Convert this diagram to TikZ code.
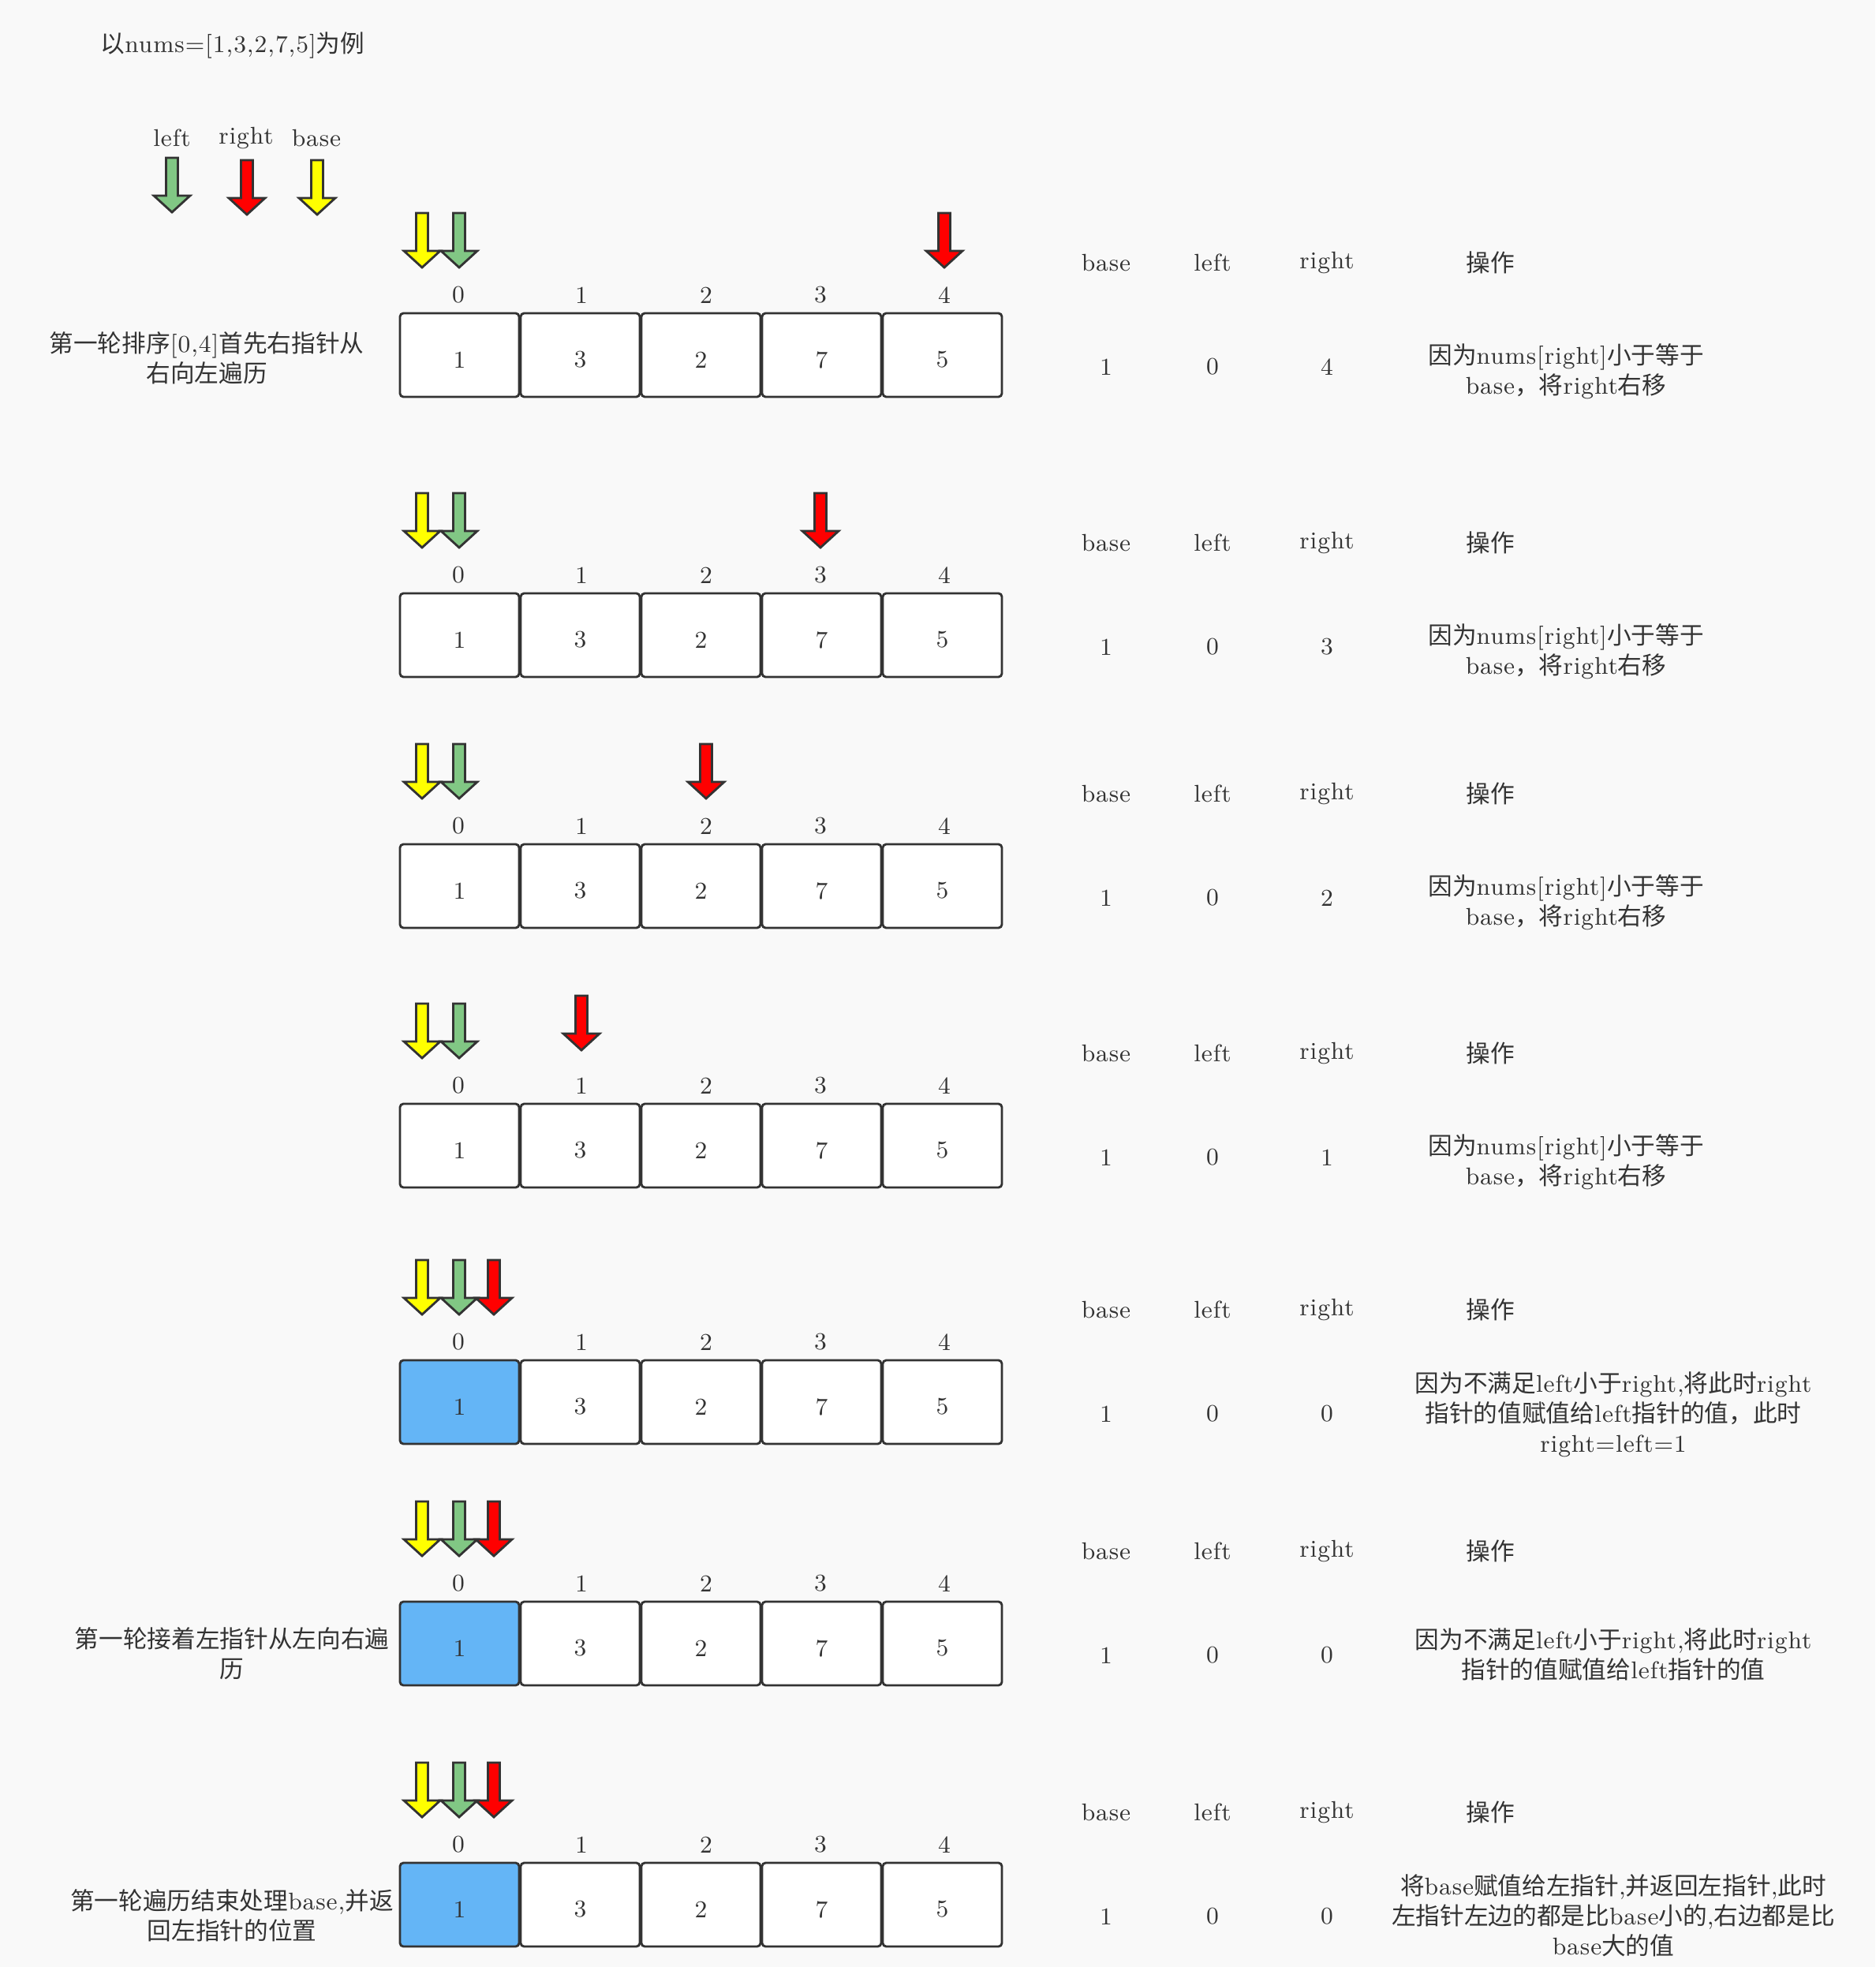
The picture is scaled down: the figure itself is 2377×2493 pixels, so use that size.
\documentclass[tikz,border=0pt]{standalone}
\usepackage{fontspec}
\setmainfont{Latin Modern Roman}[LetterSpace=3]
\newfontfamily\cjk{Noto Sans CJK SC}
\newcommand\zh[1]{{\cjk #1}}
\definecolor{bgc}{HTML}{F9F9F9}
\definecolor{ln}{HTML}{333333}
\definecolor{tx}{HTML}{333333}
\definecolor{pgreen}{HTML}{81C784}
\definecolor{pblue}{HTML}{64B5F6}
\definecolor{pyellow}{HTML}{FFFF00}
\definecolor{pred}{HTML}{FF0000}
\tikzset{
  ptr/.style={draw=ln, line width=0.85pt, line join=miter},
  pics/darrow/.style={code={\path[ptr, fill=#1] (-7.5,0) -- (7.5,0) -- (7.5,48) -- (23,48) -- (0,69) -- (-23,48) -- (-7.5,48) -- cycle;}},
  cell/.style={draw=ln, line width=0.85pt, rounded corners=1.3pt, minimum width=45.3pt, minimum height=31.8pt, inner sep=0pt, outer sep=0pt},
  lab/.style={text=tx, inner sep=0pt, font=\fontsize{9.2pt}{11.4pt}\selectfont},
  para/.style={lab, align=center},
}
\begin{document}
\begin{tikzpicture}[x=0.3pt, y=-0.3pt]
\fill[bgc] (0,0) rectangle (2377,2493);
\useasboundingbox (0,0) rectangle (2377,2493);
% title and legend
\node[lab, anchor=west] (title) at (127,57) {\zh{以}nums=[1,3,2,7,5]\zh{为例}};
\node[lab] (lgleft) at (218,175) {left};
\node[lab] (lgright) at (312,175) {right};
\node[lab] (lgbase) at (401,175) {base};
\pic at (218,200) {darrow=pgreen};
\pic at (313,203) {darrow=pred};
\pic at (402,203) {darrow=pyellow};
% rows
\foreach \r/\T/\rx/\rt/\rv/\cz in {
  1/397/1197/127/4/white,
  2/752/1040/127/3/white,
  3/1070/895/127/2/white,
  4/1399/737/137/1/white,
  5/1724/626/127/0/pblue,
  6/2030/626/127/0/pblue,
  7/2361/626/127/0/pblue}{
  \foreach \v/\f [count=\k from 0] in {1/\cz,3/white,2/white,7/white,5/white}{
    \node[cell, fill=\f] (c\r-\k) at ({582.5+153*\k},\T+53) {};
    \node[lab] (n\r-\k) at ({582.5+153*\k},\T+59) {\v};
  }
  \foreach \ix [count=\k from 0] in {581,737,895,1040,1197}{
    \node[lab] (i\r-\k) at (\ix,\T-23) {\k};
  }
  \pic at (535,\T-127) {darrow=pyellow};
  \pic at (582,\T-127) {darrow=pgreen};
  \pic at (\rx,\T-\rt) {darrow=pred};
  \node[lab] (hb\r) at (1402,\T-64) {base};
  \node[lab] (hl\r) at (1537,\T-64) {left};
  \node[lab] (hr\r) at (1682,\T-64) {right};
  \node[lab] (ho\r) at (1889,\T-64) {\zh{操作}};
  \node[lab] (vb\r) at (1402,\T+68) {1};
  \node[lab] (vl\r) at (1537,\T+68) {0};
  \node[lab] (vr\r) at (1682,\T+68) {\rv};
}
% descriptions on the left
\node[para] (desc1) at (262,454) {\zh{第一轮排序}[0,4]\zh{首先右指针从}\\\zh{右向左遍历}};
\node[para] (desc6) at (294,2096) {\zh{第一轮接着左指针从左向右遍}\\\zh{历}};
\node[para] (desc7) at (294,2428) {\zh{第一轮遍历结束处理}base,\zh{并返}\\\zh{回左指针的位置}};
% operations
\node[para] (op1) at (1985,471) {\zh{因为}nums[right]\zh{小于等于}\\base\zh{，将}right\zh{右移}};
\node[para] (op2) at (1985,826) {\zh{因为}nums[right]\zh{小于等于}\\base\zh{，将}right\zh{右移}};
\node[para] (op3) at (1985,1144) {\zh{因为}nums[right]\zh{小于等于}\\base\zh{，将}right\zh{右移}};
\node[para] (op4) at (1985,1473) {\zh{因为}nums[right]\zh{小于等于}\\base\zh{，将}right\zh{右移}};
\node[para] (op5) at (2045,1793) {\zh{因为不满足}left\zh{小于}right,\zh{将此时}right\\\zh{指针的值赋值给}left\zh{指针的值，此时}\\right=left=1};
\node[para] (op6) at (2045,2097) {\zh{因为不满足}left\zh{小于}right,\zh{将此时}right\\\zh{指针的值赋值给}left\zh{指针的值}};
\node[para] (op7) at (2045,2428) {\zh{将}base\zh{赋值给左指针},\zh{并返回左指针},\zh{此时}\\\zh{左指针左边的都是比}base\zh{小的},\zh{右边都是比}\\base\zh{大的值}};
\end{tikzpicture}
\end{document}
